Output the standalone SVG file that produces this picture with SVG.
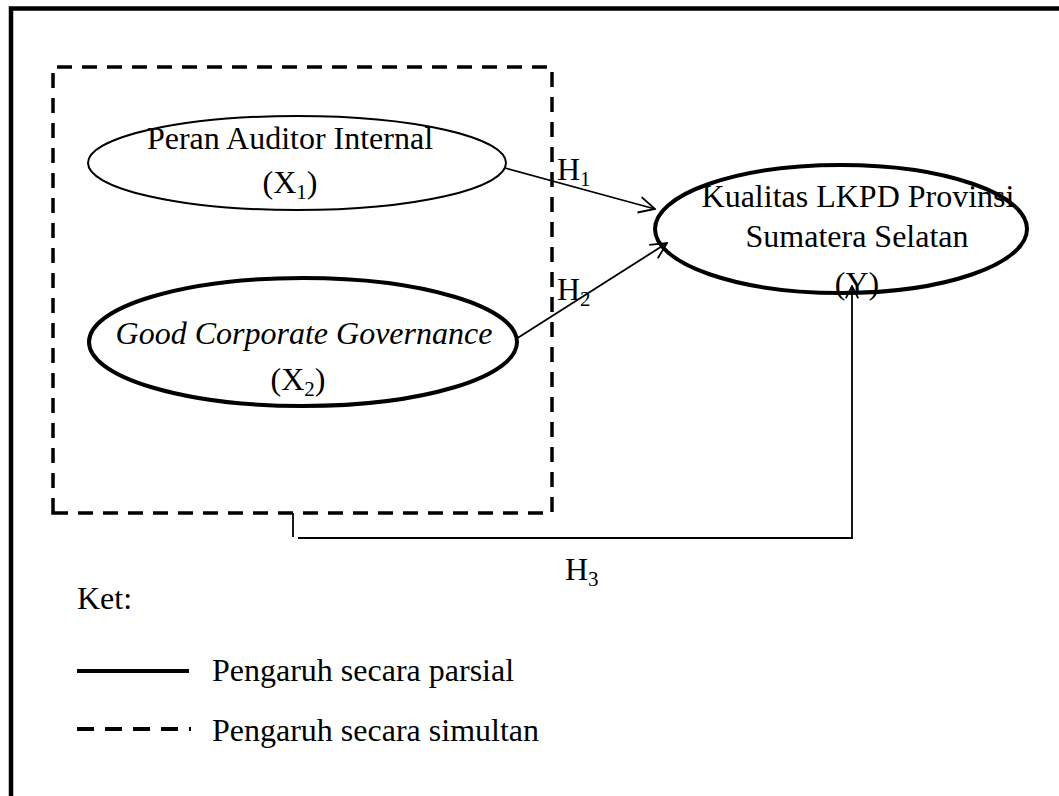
<svg xmlns="http://www.w3.org/2000/svg" width="1059" height="796" viewBox="0 0 1059 796">
<style>
  text { font-family: "Liberation Serif", "Times New Roman", serif; font-size: 32px; fill: #000; }
  .sub { font-size: 21px; }
  .node-thin { fill: none; stroke: #000; stroke-width: 2; }
  .node-thick { fill: none; stroke: #000; stroke-width: 4; }
  .conn { fill: none; stroke: #000; stroke-width: 1.8; }
  .dash { fill: none; stroke: #000; stroke-width: 3.5; stroke-dasharray: 15 10; }
</style>
<defs>
  <marker id="arr" markerUnits="userSpaceOnUse" viewBox="0 0 18 18" markerWidth="18" markerHeight="18" refX="17" refY="9" orient="auto">
    <path d="M1,1 L17,9 L1,17" fill="none" stroke="#000" stroke-width="1.8"/>
  </marker>
  <marker id="arrS" markerUnits="userSpaceOnUse" viewBox="0 0 18 18" markerWidth="14" markerHeight="14" refX="17" refY="9" orient="auto">
    <path d="M1,1 L17,9 L1,17" fill="none" stroke="#000" stroke-width="2.2"/>
  </marker>
</defs>
<rect width="1059" height="796" fill="#fff"/>
<g id="frame">
  <path d="M11,796 L11,8.5 L1059,8.5" fill="none" stroke="#000" stroke-width="4.5"/>
</g>
<g id="simultan-box">
  <path class="dash" d="M53,513 L53,67 L552,67 L552,513 Z"/>
</g>
<g id="connectors">
  <line class="conn" x1="505" y1="168" x2="655" y2="209" marker-end="url(#arr)"/>
  <line class="conn" x1="516" y1="339" x2="667" y2="243" marker-end="url(#arr)"/>
  <line class="conn" x1="293" y1="513" x2="293" y2="537"/>
  <path class="conn" d="M298,538 L852,538 L852,286" marker-end="url(#arrS)"/>
</g>
<g id="node-x1">
  <ellipse class="node-thin" cx="297" cy="163" rx="209" ry="47"/>
  <text x="290" y="149" text-anchor="middle">Peran Auditor Internal</text>
  <text x="290" y="193" text-anchor="middle">(X<tspan class="sub" dy="6">1</tspan><tspan dy="-6">)</tspan></text>
</g>
<g id="node-x2">
  <ellipse class="node-thick" cx="303" cy="342" rx="214" ry="64"/>
  <text x="304" y="344" text-anchor="middle" font-style="italic">Good Corporate Governance</text>
  <text x="298" y="390" text-anchor="middle">(X<tspan class="sub" dy="6">2</tspan><tspan dy="-6">)</tspan></text>
</g>
<g id="node-y">
  <ellipse class="node-thick" cx="841" cy="229" rx="186" ry="64"/>
  <text x="858" y="207" text-anchor="middle">Kualitas LKPD Provinsi</text>
  <text x="857" y="247" text-anchor="middle">Sumatera Selatan</text>
  <text x="857" y="294" text-anchor="middle">(Y)</text>
</g>
<g id="labels">
  <text x="557" y="180">H<tspan class="sub" dy="6">1</tspan></text>
  <text x="557" y="300">H<tspan class="sub" dy="6">2</tspan></text>
  <text x="565" y="580">H<tspan class="sub" dy="6">3</tspan></text>
</g>
<g id="legend">
  <text x="77" y="609">Ket:</text>
  <line x1="77" y1="671" x2="189" y2="671" stroke="#000" stroke-width="4"/>
  <text x="212" y="681">Pengaruh secara parsial</text>
  <line x1="77" y1="729" x2="191" y2="729" stroke="#000" stroke-width="4" stroke-dasharray="17 11"/>
  <text x="212" y="741">Pengaruh secara simultan</text>
</g>
</svg>
